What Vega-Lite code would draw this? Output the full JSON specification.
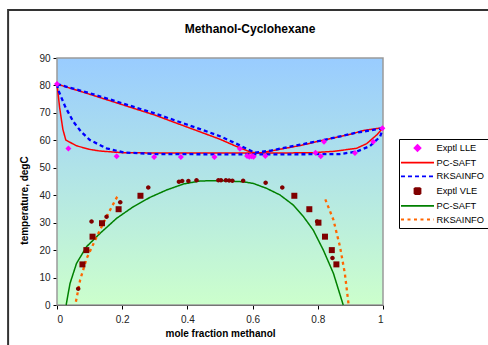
{
  "$schema": "https://vega.github.io/schema/vega-lite/v6.json",
  "width": 326,
  "height": 247,
  "autosize": {"type": "none"},
  "padding": {"left": 57, "top": 58, "right": 105, "bottom": 40},
  "background": "white",
  "title": {"text": "Methanol-Cyclohexane", "font": "Liberation Sans", "fontSize": 12, "fontWeight": "bold", "color": "black", "anchor": "middle", "dx": 30, "offset": -27},
  "config": {
    "view": {"stroke": null},
    "axis": {"domainColor": "black", "domainWidth": 1, "tickColor": "black", "tickSize": 4, "labelColor": "#222222", "labelFont": "Liberation Sans", "labelFontSize": 10, "titleFont": "Liberation Sans", "titleFontSize": 10, "titleFontWeight": "bold", "titleColor": "black", "grid": false, "zindex": 1},
    "legend": {"labelFont": "Liberation Sans", "labelFontSize": 9.3, "labelColor": "black", "symbolStrokeWidth": 1.8, "symbolSize": 100}
  },
  "datasets": {
    "d": [
      {"s": "Exptl LLE", "x": 0, "T": 80.5},
      {"s": "Exptl LLE", "x": 0.035, "T": 57},
      {"s": "Exptl LLE", "x": 0.183, "T": 54.2},
      {"s": "Exptl LLE", "x": 0.298, "T": 53.9},
      {"s": "Exptl LLE", "x": 0.38, "T": 53.9},
      {"s": "Exptl LLE", "x": 0.483, "T": 53.9},
      {"s": "Exptl LLE", "x": 0.561, "T": 56.9},
      {"s": "Exptl LLE", "x": 0.583, "T": 54.3},
      {"s": "Exptl LLE", "x": 0.59, "T": 54.0},
      {"s": "Exptl LLE", "x": 0.597, "T": 54.2},
      {"s": "Exptl LLE", "x": 0.603, "T": 54.0},
      {"s": "Exptl LLE", "x": 0.639, "T": 54.3},
      {"s": "Exptl LLE", "x": 0.793, "T": 55.5},
      {"s": "Exptl LLE", "x": 0.809, "T": 54.2},
      {"s": "Exptl LLE", "x": 0.819, "T": 59.5},
      {"s": "Exptl LLE", "x": 0.914, "T": 55.4},
      {"s": "Exptl LLE", "x": 0.97, "T": 59.5},
      {"s": "Exptl LLE", "x": 0.998, "T": 64.4},

      {"s": "PC-SAFT (LLE)", "b": "u", "x": 0, "T": 80.5},
      {"s": "PC-SAFT (LLE)", "b": "u", "x": 0.1, "T": 76.8},
      {"s": "PC-SAFT (LLE)", "b": "u", "x": 0.2, "T": 73.0},
      {"s": "PC-SAFT (LLE)", "b": "u", "x": 0.3, "T": 69.2},
      {"s": "PC-SAFT (LLE)", "b": "u", "x": 0.377, "T": 65.8},
      {"s": "PC-SAFT (LLE)", "b": "u", "x": 0.45, "T": 62.6},
      {"s": "PC-SAFT (LLE)", "b": "u", "x": 0.5, "T": 60.4},
      {"s": "PC-SAFT (LLE)", "b": "u", "x": 0.55, "T": 57.8},
      {"s": "PC-SAFT (LLE)", "b": "u", "x": 0.59, "T": 55.9},
      {"s": "PC-SAFT (LLE)", "b": "u", "x": 0.615, "T": 55.3},
      {"s": "PC-SAFT (LLE)", "b": "u", "x": 0.65, "T": 56.0},
      {"s": "PC-SAFT (LLE)", "b": "u", "x": 0.7, "T": 57.1},
      {"s": "PC-SAFT (LLE)", "b": "u", "x": 0.75, "T": 58.2},
      {"s": "PC-SAFT (LLE)", "b": "u", "x": 0.8, "T": 59.6},
      {"s": "PC-SAFT (LLE)", "b": "u", "x": 0.85, "T": 60.9},
      {"s": "PC-SAFT (LLE)", "b": "u", "x": 0.9, "T": 62.2},
      {"s": "PC-SAFT (LLE)", "b": "u", "x": 0.94, "T": 63.6},
      {"s": "PC-SAFT (LLE)", "b": "u", "x": 1.0, "T": 64.6},
      {"s": "PC-SAFT (LLE)", "b": "l", "x": 0, "T": 80.5},
      {"s": "PC-SAFT (LLE)", "b": "l", "x": 0.008, "T": 72},
      {"s": "PC-SAFT (LLE)", "b": "l", "x": 0.018, "T": 64},
      {"s": "PC-SAFT (LLE)", "b": "l", "x": 0.027, "T": 60.1},
      {"s": "PC-SAFT (LLE)", "b": "l", "x": 0.06, "T": 58.0},
      {"s": "PC-SAFT (LLE)", "b": "l", "x": 0.1, "T": 56.7},
      {"s": "PC-SAFT (LLE)", "b": "l", "x": 0.132, "T": 56.1},
      {"s": "PC-SAFT (LLE)", "b": "l", "x": 0.2, "T": 55.5},
      {"s": "PC-SAFT (LLE)", "b": "l", "x": 0.3, "T": 55.4},
      {"s": "PC-SAFT (LLE)", "b": "l", "x": 0.5, "T": 55.4},
      {"s": "PC-SAFT (LLE)", "b": "l", "x": 0.7, "T": 55.4},
      {"s": "PC-SAFT (LLE)", "b": "l", "x": 0.786, "T": 55.5},
      {"s": "PC-SAFT (LLE)", "b": "l", "x": 0.85, "T": 56.0},
      {"s": "PC-SAFT (LLE)", "b": "l", "x": 0.919, "T": 57.1},
      {"s": "PC-SAFT (LLE)", "b": "l", "x": 0.95, "T": 58.8},
      {"s": "PC-SAFT (LLE)", "b": "l", "x": 0.981, "T": 62.0},
      {"s": "PC-SAFT (LLE)", "b": "l", "x": 1.0, "T": 64.6},

      {"s": "RKSAINFO (LLE)", "b": "u", "x": 0, "T": 80.5},
      {"s": "RKSAINFO (LLE)", "b": "u", "x": 0.03, "T": 79.5},
      {"s": "RKSAINFO (LLE)", "b": "u", "x": 0.1, "T": 77.2},
      {"s": "RKSAINFO (LLE)", "b": "u", "x": 0.2, "T": 73.5},
      {"s": "RKSAINFO (LLE)", "b": "u", "x": 0.3, "T": 69.8},
      {"s": "RKSAINFO (LLE)", "b": "u", "x": 0.439, "T": 64.1},
      {"s": "RKSAINFO (LLE)", "b": "u", "x": 0.5, "T": 61.5},
      {"s": "RKSAINFO (LLE)", "b": "u", "x": 0.55, "T": 58.8},
      {"s": "RKSAINFO (LLE)", "b": "u", "x": 0.582, "T": 56.9},
      {"s": "RKSAINFO (LLE)", "b": "u", "x": 0.607, "T": 55.5},
      {"s": "RKSAINFO (LLE)", "b": "u", "x": 0.653, "T": 56.2},
      {"s": "RKSAINFO (LLE)", "b": "u", "x": 0.715, "T": 57.7},
      {"s": "RKSAINFO (LLE)", "b": "u", "x": 0.817, "T": 60.1},
      {"s": "RKSAINFO (LLE)", "b": "u", "x": 0.919, "T": 62.8},
      {"s": "RKSAINFO (LLE)", "b": "u", "x": 0.99, "T": 64.2},
      {"s": "RKSAINFO (LLE)", "b": "u", "x": 1.0, "T": 64.5},
      {"s": "RKSAINFO (LLE)", "b": "l", "x": 0, "T": 80.5},
      {"s": "RKSAINFO (LLE)", "b": "l", "x": 0.004, "T": 78.3},
      {"s": "RKSAINFO (LLE)", "b": "l", "x": 0.025, "T": 72.3},
      {"s": "RKSAINFO (LLE)", "b": "l", "x": 0.05, "T": 66.8},
      {"s": "RKSAINFO (LLE)", "b": "l", "x": 0.075, "T": 63.0},
      {"s": "RKSAINFO (LLE)", "b": "l", "x": 0.101, "T": 60.1},
      {"s": "RKSAINFO (LLE)", "b": "l", "x": 0.152, "T": 57.1},
      {"s": "RKSAINFO (LLE)", "b": "l", "x": 0.204, "T": 55.6},
      {"s": "RKSAINFO (LLE)", "b": "l", "x": 0.3, "T": 55.0},
      {"s": "RKSAINFO (LLE)", "b": "l", "x": 0.5, "T": 54.9},
      {"s": "RKSAINFO (LLE)", "b": "l", "x": 0.7, "T": 54.9},
      {"s": "RKSAINFO (LLE)", "b": "l", "x": 0.868, "T": 55.0},
      {"s": "RKSAINFO (LLE)", "b": "l", "x": 0.919, "T": 55.9},
      {"s": "RKSAINFO (LLE)", "b": "l", "x": 0.96, "T": 57.9},
      {"s": "RKSAINFO (LLE)", "b": "l", "x": 0.991, "T": 61.3},
      {"s": "RKSAINFO (LLE)", "b": "l", "x": 1.0, "T": 64.5},

      {"s": "Exptl VLE", "x": 0.078, "T": 14.8},
      {"s": "Exptl VLE", "x": 0.09, "T": 20.0},
      {"s": "Exptl VLE", "x": 0.109, "T": 24.9},
      {"s": "Exptl VLE", "x": 0.138, "T": 29.8},
      {"s": "Exptl VLE", "x": 0.189, "T": 34.9},
      {"s": "Exptl VLE", "x": 0.256, "T": 39.8},
      {"s": "Exptl VLE", "x": 0.728, "T": 39.8},
      {"s": "Exptl VLE", "x": 0.774, "T": 34.9},
      {"s": "Exptl VLE", "x": 0.802, "T": 30.0},
      {"s": "Exptl VLE", "x": 0.822, "T": 24.9},
      {"s": "Exptl VLE", "x": 0.843, "T": 20.0},
      {"s": "Exptl VLE", "x": 0.857, "T": 14.8},
      {"s": "Exptl VLE b", "x": 0.065, "T": 5.9},
      {"s": "Exptl VLE b", "x": 0.106, "T": 30.4},
      {"s": "Exptl VLE b", "x": 0.152, "T": 32.2},
      {"s": "Exptl VLE b", "x": 0.194, "T": 37.4},
      {"s": "Exptl VLE b", "x": 0.28, "T": 42.8},
      {"s": "Exptl VLE b", "x": 0.374, "T": 44.9},
      {"s": "Exptl VLE b", "x": 0.384, "T": 45.2},
      {"s": "Exptl VLE b", "x": 0.403, "T": 45.2},
      {"s": "Exptl VLE b", "x": 0.428, "T": 45.5},
      {"s": "Exptl VLE b", "x": 0.495, "T": 45.5},
      {"s": "Exptl VLE b", "x": 0.503, "T": 45.5},
      {"s": "Exptl VLE b", "x": 0.518, "T": 45.5},
      {"s": "Exptl VLE b", "x": 0.528, "T": 45.4},
      {"s": "Exptl VLE b", "x": 0.538, "T": 45.3},
      {"s": "Exptl VLE b", "x": 0.571, "T": 45.3},
      {"s": "Exptl VLE b", "x": 0.64, "T": 44.5},
      {"s": "Exptl VLE b", "x": 0.691, "T": 42.8},
      {"s": "Exptl VLE b", "x": 0.798, "T": 30.4},
      {"s": "Exptl VLE b", "x": 0.845, "T": 17.1},

      {"s": "PC-SAFT (VLE)", "b": "a", "x": 0.028, "T": 0},
      {"s": "PC-SAFT (VLE)", "b": "a", "x": 0.04, "T": 7.9},
      {"s": "PC-SAFT (VLE)", "b": "a", "x": 0.06, "T": 15.2},
      {"s": "PC-SAFT (VLE)", "b": "a", "x": 0.091, "T": 21.3},
      {"s": "PC-SAFT (VLE)", "b": "a", "x": 0.132, "T": 26.1},
      {"s": "PC-SAFT (VLE)", "b": "a", "x": 0.183, "T": 31.6},
      {"s": "PC-SAFT (VLE)", "b": "a", "x": 0.234, "T": 35.8},
      {"s": "PC-SAFT (VLE)", "b": "a", "x": 0.285, "T": 39.2},
      {"s": "PC-SAFT (VLE)", "b": "a", "x": 0.336, "T": 41.9},
      {"s": "PC-SAFT (VLE)", "b": "a", "x": 0.388, "T": 44.1},
      {"s": "PC-SAFT (VLE)", "b": "a", "x": 0.439, "T": 45.2},
      {"s": "PC-SAFT (VLE)", "b": "a", "x": 0.5, "T": 45.3},
      {"s": "PC-SAFT (VLE)", "b": "a", "x": 0.571, "T": 44.9},
      {"s": "PC-SAFT (VLE)", "b": "a", "x": 0.602, "T": 44.3},
      {"s": "PC-SAFT (VLE)", "b": "a", "x": 0.643, "T": 42.5},
      {"s": "PC-SAFT (VLE)", "b": "a", "x": 0.684, "T": 40.1},
      {"s": "PC-SAFT (VLE)", "b": "a", "x": 0.725, "T": 36.4},
      {"s": "PC-SAFT (VLE)", "b": "a", "x": 0.756, "T": 32.2},
      {"s": "PC-SAFT (VLE)", "b": "a", "x": 0.786, "T": 27.3},
      {"s": "PC-SAFT (VLE)", "b": "a", "x": 0.817, "T": 20.0},
      {"s": "PC-SAFT (VLE)", "b": "a", "x": 0.848, "T": 11.5},
      {"s": "PC-SAFT (VLE)", "b": "a", "x": 0.878, "T": 0},

      {"s": "RKSAINFO (VLE)", "b": "l", "x": 0.058, "T": 1.2},
      {"s": "RKSAINFO (VLE)", "b": "l", "x": 0.071, "T": 9.1},
      {"s": "RKSAINFO (VLE)", "b": "l", "x": 0.091, "T": 17.0},
      {"s": "RKSAINFO (VLE)", "b": "l", "x": 0.122, "T": 24.9},
      {"s": "RKSAINFO (VLE)", "b": "l", "x": 0.152, "T": 32.2},
      {"s": "RKSAINFO (VLE)", "b": "l", "x": 0.183, "T": 39.1},
      {"s": "RKSAINFO (VLE)", "b": "l", "x": 0.19, "T": 40.0},
      {"s": "RKSAINFO (VLE)", "b": "r", "x": 0.823, "T": 38.5},
      {"s": "RKSAINFO (VLE)", "b": "r", "x": 0.848, "T": 31.0},
      {"s": "RKSAINFO (VLE)", "b": "r", "x": 0.868, "T": 21.3},
      {"s": "RKSAINFO (VLE)", "b": "r", "x": 0.883, "T": 11.5},
      {"s": "RKSAINFO (VLE)", "b": "r", "x": 0.894, "T": 0.6}
    ]
  },
  "layer": [
    {
      "data": {"values": [{}]},
      "mark": {"type": "rect", "fill": {"gradient": "linear", "x1": 0, "y1": 0, "x2": 0, "y2": 1, "stops": [{"offset": 0, "color": "#99CCFF"}, {"offset": 1, "color": "#CCFFCC"}]}, "stroke": "#9a9a9a", "strokeWidth": 1.5},
      "encoding": {
        "x": {"datum": 0, "type": "quantitative", "scale": {"domain": [0, 1], "nice": false}, "axis": {"title": "mole fraction methanol", "values": [0, 0.2, 0.4, 0.6, 0.8, 1], "format": "~g", "labelPadding": 5, "titlePadding": 4}},
        "x2": {"datum": 1},
        "y": {"datum": 0, "type": "quantitative", "scale": {"domain": [0, 90], "nice": false}, "axis": {"title": "temperature, degC", "values": [0, 10, 20, 30, 40, 50, 60, 70, 80, 90], "labelPadding": 3, "titleX": -28, "titleY": 142}},
        "y2": {"datum": 90}
      }
    },
    {
      "data": {"values": [{}]},
      "mark": {"type": "rect", "filled": false, "stroke": "#333333", "strokeWidth": 2},
      "encoding": {
        "x": {"datum": -0.15, "type": "quantitative", "scale": {"domain": [0, 1], "nice": false}, "axis": {"title": "mole fraction methanol", "values": [0, 0.2, 0.4, 0.6, 0.8, 1], "format": "~g", "labelPadding": 5, "titlePadding": 4}},
        "x2": {"datum": 1.6},
        "y": {"datum": -30, "type": "quantitative", "scale": {"domain": [0, 90], "nice": false}, "axis": {"title": "temperature, degC", "values": [0, 10, 20, 30, 40, 50, 60, 70, 80, 90], "labelPadding": 3, "titleX": -28, "titleY": 142}},
        "y2": {"datum": 107.5}
      }
    },
    {
      "data": {"name": "d"},
      "transform": [{"filter": {"field": "s", "oneOf": ["PC-SAFT (LLE)", "PC-SAFT (VLE)"]}}],
      "mark": {"type": "line", "strokeWidth": 1.5},
      "encoding": {
        "x": {"field": "x", "type": "quantitative", "scale": {"domain": [0, 1], "nice": false}, "axis": {"title": "mole fraction methanol", "values": [0, 0.2, 0.4, 0.6, 0.8, 1], "format": "~g", "labelPadding": 5, "titlePadding": 4}},
        "y": {"field": "T", "type": "quantitative", "scale": {"domain": [0, 90], "nice": false}, "axis": {"title": "temperature, degC", "values": [0, 10, 20, 30, 40, 50, 60, 70, 80, 90], "labelPadding": 3, "titleX": -28, "titleY": 142}},
        "detail": {"field": "b"},
        "color": {"field": "s", "type": "nominal", "scale": {"domain": ["Exptl LLE", "PC-SAFT (LLE)", "RKSAINFO (LLE)", "Exptl VLE", "PC-SAFT (VLE)", "RKSAINFO (VLE)", "Exptl VLE b"], "range": ["#FF00FF", "#FF0000", "#0000FF", "#800000", "#008000", "#FF6600", "#800000"]}, "legend": {"title": null, "values": ["Exptl LLE", "PC-SAFT (LLE)", "RKSAINFO (LLE)", "Exptl VLE", "PC-SAFT (VLE)", "RKSAINFO (VLE)"], "labelExpr": "replace(replace(datum.label, ' (LLE)', ''), ' (VLE)', '')", "orient": "none", "legendX": 342, "legendY": 81, "padding": 3, "strokeColor": "black", "fillColor": "white", "symbolOffset": 9.5, "labelOffset": 13, "rowPadding": 1.7}},
        "strokeDash": {"field": "s", "type": "nominal", "scale": {"domain": ["Exptl LLE", "PC-SAFT (LLE)", "RKSAINFO (LLE)", "Exptl VLE", "PC-SAFT (VLE)", "RKSAINFO (VLE)", "Exptl VLE b"], "range": [[1, 0], [1, 0], [4, 3], [1, 0], [1, 0], [3, 3.5], [1, 0]]}, "legend": {"title": null, "values": ["Exptl LLE", "PC-SAFT (LLE)", "RKSAINFO (LLE)", "Exptl VLE", "PC-SAFT (VLE)", "RKSAINFO (VLE)"], "labelExpr": "replace(replace(datum.label, ' (LLE)', ''), ' (VLE)', '')", "orient": "none", "legendX": 342, "legendY": 81, "padding": 3, "strokeColor": "black", "fillColor": "white", "symbolOffset": 9.5, "labelOffset": 13, "rowPadding": 1.7}}
      }
    },
    {
      "data": {"name": "d"},
      "transform": [{"filter": {"field": "s", "oneOf": ["RKSAINFO (LLE)", "RKSAINFO (VLE)"]}}],
      "mark": {"type": "line", "strokeWidth": 2.3},
      "encoding": {
        "x": {"field": "x", "type": "quantitative", "scale": {"domain": [0, 1], "nice": false}, "axis": {"title": "mole fraction methanol", "values": [0, 0.2, 0.4, 0.6, 0.8, 1], "format": "~g", "labelPadding": 5, "titlePadding": 4}},
        "y": {"field": "T", "type": "quantitative", "scale": {"domain": [0, 90], "nice": false}, "axis": {"title": "temperature, degC", "values": [0, 10, 20, 30, 40, 50, 60, 70, 80, 90], "labelPadding": 3, "titleX": -28, "titleY": 142}},
        "detail": {"field": "b"},
        "color": {"field": "s", "type": "nominal", "scale": {"domain": ["Exptl LLE", "PC-SAFT (LLE)", "RKSAINFO (LLE)", "Exptl VLE", "PC-SAFT (VLE)", "RKSAINFO (VLE)", "Exptl VLE b"], "range": ["#FF00FF", "#FF0000", "#0000FF", "#800000", "#008000", "#FF6600", "#800000"]}, "legend": {"title": null, "values": ["Exptl LLE", "PC-SAFT (LLE)", "RKSAINFO (LLE)", "Exptl VLE", "PC-SAFT (VLE)", "RKSAINFO (VLE)"], "labelExpr": "replace(replace(datum.label, ' (LLE)', ''), ' (VLE)', '')", "orient": "none", "legendX": 342, "legendY": 81, "padding": 3, "strokeColor": "black", "fillColor": "white", "symbolOffset": 9.5, "labelOffset": 13, "rowPadding": 1.7}},
        "strokeDash": {"field": "s", "type": "nominal", "scale": {"domain": ["Exptl LLE", "PC-SAFT (LLE)", "RKSAINFO (LLE)", "Exptl VLE", "PC-SAFT (VLE)", "RKSAINFO (VLE)", "Exptl VLE b"], "range": [[1, 0], [1, 0], [4, 3], [1, 0], [1, 0], [3, 3.5], [1, 0]]}, "legend": {"title": null, "values": ["Exptl LLE", "PC-SAFT (LLE)", "RKSAINFO (LLE)", "Exptl VLE", "PC-SAFT (VLE)", "RKSAINFO (VLE)"], "labelExpr": "replace(replace(datum.label, ' (LLE)', ''), ' (VLE)', '')", "orient": "none", "legendX": 342, "legendY": 81, "padding": 3, "strokeColor": "black", "fillColor": "white", "symbolOffset": 9.5, "labelOffset": 13, "rowPadding": 1.7}}
      }
    },
    {
      "data": {"name": "d"},
      "transform": [{"filter": {"field": "s", "oneOf": ["Exptl LLE", "Exptl VLE", "Exptl VLE b"]}}],
      "mark": {"type": "point", "filled": true, "size": 100, "opacity": 1},
      "encoding": {
        "x": {"field": "x", "type": "quantitative", "scale": {"domain": [0, 1], "nice": false}, "axis": {"title": "mole fraction methanol", "values": [0, 0.2, 0.4, 0.6, 0.8, 1], "format": "~g", "labelPadding": 5, "titlePadding": 4}},
        "y": {"field": "T", "type": "quantitative", "scale": {"domain": [0, 90], "nice": false}, "axis": {"title": "temperature, degC", "values": [0, 10, 20, 30, 40, 50, 60, 70, 80, 90], "labelPadding": 3, "titleX": -28, "titleY": 142}},
        "color": {"field": "s", "type": "nominal", "scale": {"domain": ["Exptl LLE", "PC-SAFT (LLE)", "RKSAINFO (LLE)", "Exptl VLE", "PC-SAFT (VLE)", "RKSAINFO (VLE)", "Exptl VLE b"], "range": ["#FF00FF", "#FF0000", "#0000FF", "#800000", "#008000", "#FF6600", "#800000"]}, "legend": {"title": null, "values": ["Exptl LLE", "PC-SAFT (LLE)", "RKSAINFO (LLE)", "Exptl VLE", "PC-SAFT (VLE)", "RKSAINFO (VLE)"], "labelExpr": "replace(replace(datum.label, ' (LLE)', ''), ' (VLE)', '')", "orient": "none", "legendX": 342, "legendY": 81, "padding": 3, "strokeColor": "black", "fillColor": "white", "symbolOffset": 9.5, "labelOffset": 13, "rowPadding": 1.7}},
        "shape": {"field": "s", "type": "nominal", "scale": {"domain": ["Exptl LLE", "PC-SAFT (LLE)", "RKSAINFO (LLE)", "Exptl VLE", "PC-SAFT (VLE)", "RKSAINFO (VLE)", "Exptl VLE b"], "range": ["M0,-0.6L0.6,0L0,0.6L-0.6,0Z", "M-3.3,0H3.3", "M-3.3,0H3.3", "M-0.6,-0.6H0.6V0.6H-0.6Z", "M-3.3,0H3.3", "M-3.3,0H3.3", "M0.45,0A0.45,0.45 0 1,1 -0.45,0A0.45,0.45 0 1,1 0.45,0Z"]}, "legend": {"title": null, "values": ["Exptl LLE", "PC-SAFT (LLE)", "RKSAINFO (LLE)", "Exptl VLE", "PC-SAFT (VLE)", "RKSAINFO (VLE)"], "labelExpr": "replace(replace(datum.label, ' (LLE)', ''), ' (VLE)', '')", "orient": "none", "legendX": 342, "legendY": 81, "padding": 3, "strokeColor": "black", "fillColor": "white", "symbolOffset": 9.5, "labelOffset": 13, "rowPadding": 1.7}}
      }
    }
  ]
}
